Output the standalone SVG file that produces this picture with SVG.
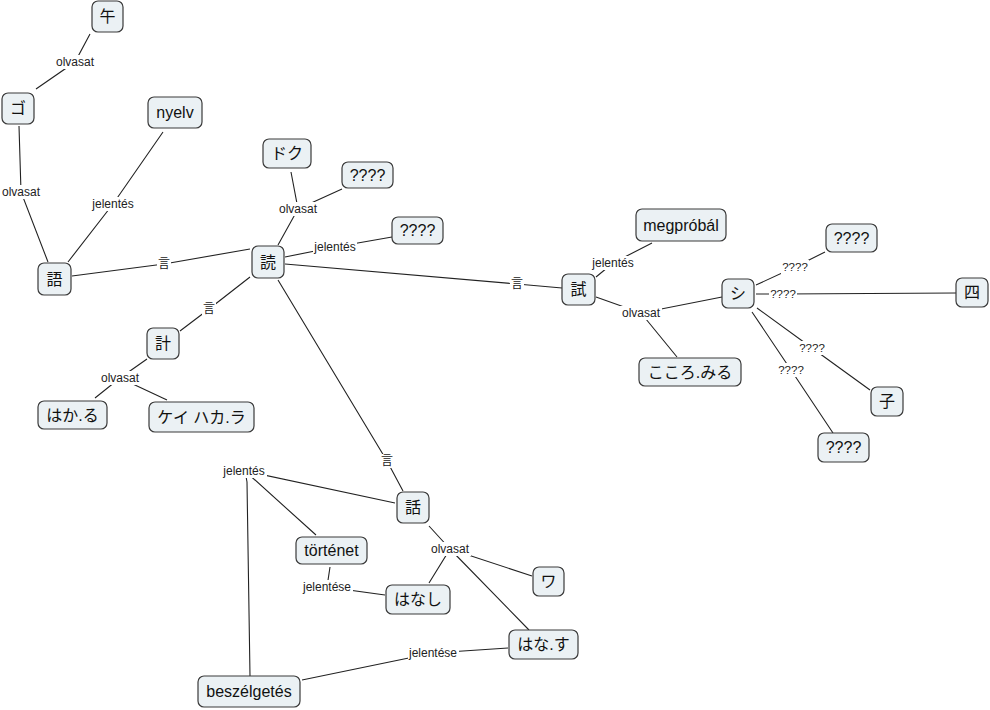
<svg xmlns="http://www.w3.org/2000/svg" width="990" height="710" viewBox="0 0 990 710">
<style>
.bg{fill:#ffffff}
.n rect{fill:#ebf1f4;stroke:#3a3a3a;stroke-width:1.2}
.n text{font-family:"Liberation Sans","Noto Sans CJK JP",sans-serif;font-size:16px;fill:#111;text-anchor:middle}
.c path{fill:none;stroke:#222;stroke-width:1.1}
.l rect{fill:#ffffff}
.l text{font-family:"Liberation Sans","Noto Sans CJK JP",sans-serif;font-size:12px;fill:#222;text-anchor:middle}
.l text.q{font-size:11.5px}
</style>
<rect class="bg" x="0" y="0" width="990" height="710"/>
<g id="connectors" class="c">
<path d="M90,34 L75,62 L36,89"/>
<path d="M19,126 L21,192 L48,262"/>
<path d="M163,132 L113,204 L68,262"/>
<path d="M72,276 L164,264 L250,249"/>
<path d="M278,245 L298,209 L291,172 M298,209 L342,189"/>
<path d="M285,257 L335,247 L392,237"/>
<path d="M285,264 L517,284 L562,288"/>
<path d="M250,277 L209,309 L180,331"/>
<path d="M278,280 L387,461 L403,491"/>
<path d="M147,359 L120,378 L95,398 M120,378 L167,400"/>
<path d="M395,503 L245,471 L316,535 M245,471 L247,482 L250,676"/>
<path d="M330,567 L327,587 L385,595"/>
<path d="M429,526 L450,549 L429,583 M450,549 L532,576 M450,549 L529,630"/>
<path d="M302,680 L433,653 L508,648"/>
<path d="M596,277 L613,263 L652,243"/>
<path d="M596,297 L641,313 L722,297 M641,313 L677,357"/>
<path d="M756,285 L795,267 L825,252"/>
<path d="M756,294 L783,294 L956,293"/>
<path d="M757,308 L812,348 L870,390"/>
<path d="M752,312 L791,370 L833,433"/>
</g>
<g id="labels" class="l">
<rect x="54" y="55" width="42" height="14"/><text x="75" y="66">olvasat</text>
<rect x="0" y="185" width="42" height="14"/><text x="21" y="196">olvasat</text>
<rect x="92" y="197" width="43" height="14"/><text x="113" y="208">jelentés</text>
<rect x="157" y="257" width="14" height="14"/><text x="164" y="268">言</text>
<rect x="277" y="202" width="42" height="14"/><text x="298" y="213">olvasat</text>
<rect x="313" y="240" width="44" height="14"/><text x="335" y="251">jelentés</text>
<rect x="510" y="277" width="14" height="14"/><text x="517" y="288">言</text>
<rect x="202" y="302" width="14" height="14"/><text x="209" y="313">言</text>
<rect x="380" y="454" width="14" height="14"/><text x="387" y="465">言</text>
<rect x="99" y="371" width="42" height="14"/><text x="120" y="382">olvasat</text>
<rect x="222" y="464" width="45" height="14"/><text x="244" y="475">jelentés</text>
<rect x="302" y="580" width="51" height="14"/><text x="327" y="591">jelentése</text>
<rect x="429" y="542" width="42" height="14"/><text x="450" y="553">olvasat</text>
<rect x="408" y="646" width="51" height="14"/><text x="433" y="657">jelentése</text>
<rect x="592" y="256" width="43" height="14"/><text x="613" y="267">jelentés</text>
<rect x="620" y="306" width="42" height="14"/><text x="641" y="317">olvasat</text>
<rect x="781" y="260" width="28" height="14"/><text class="q" x="795" y="271">????</text>
<rect x="769" y="287" width="28" height="14"/><text class="q" x="783" y="298">????</text>
<rect x="798" y="341" width="28" height="14"/><text class="q" x="812" y="352">????</text>
<rect x="777" y="363" width="28" height="14"/><text class="q" x="791" y="374">????</text>
</g>
<g id="n1" class="n"><rect x="92" y="1" width="31" height="31" rx="6"/><text x="107.5" y="22">午</text></g>
<g id="n2" class="n"><rect x="2" y="93" width="32" height="31" rx="6"/><text x="18" y="114">ゴ</text></g>
<g id="n3" class="n"><rect x="148" y="97" width="54" height="31" rx="6"/><text x="175" y="118">nyelv</text></g>
<g id="n4" class="n"><rect x="38" y="263" width="33" height="32" rx="6"/><text x="54.5" y="285">語</text></g>
<g id="n5" class="n"><rect x="252" y="246" width="32" height="32" rx="6"/><text x="268" y="268">読</text></g>
<g id="n6" class="n"><rect x="263" y="139" width="48" height="29" rx="6"/><text x="287" y="159">ドク</text></g>
<g id="n7" class="n"><rect x="342" y="162" width="51" height="26" rx="6"/><text x="367.5" y="181">????</text></g>
<g id="n8" class="n"><rect x="392" y="217" width="51" height="27" rx="6"/><text x="417.5" y="236">????</text></g>
<g id="n9" class="n"><rect x="562" y="274" width="33" height="31" rx="6"/><text x="578.5" y="295">試</text></g>
<g id="n10" class="n"><rect x="636" y="209" width="90" height="32" rx="6"/><text x="681" y="231">megpróbál</text></g>
<g id="n11" class="n"><rect x="722" y="279" width="32" height="29" rx="6"/><text x="738" y="299">シ</text></g>
<g id="n12" class="n"><rect x="826" y="224" width="51" height="28" rx="6"/><text x="851.5" y="244">????</text></g>
<g id="n13" class="n"><rect x="956" y="278" width="32" height="29" rx="6"/><text x="972" y="298">四</text></g>
<g id="n14" class="n"><rect x="639" y="358" width="102" height="28" rx="6"/><text x="690" y="378">こころ.みる</text></g>
<g id="n15" class="n"><rect x="871" y="387" width="32" height="29" rx="6"/><text x="887" y="407">子</text></g>
<g id="n16" class="n"><rect x="818" y="433" width="51" height="29" rx="6"/><text x="843.5" y="453">????</text></g>
<g id="n17" class="n"><rect x="147" y="328" width="32" height="31" rx="6"/><text x="163" y="349">計</text></g>
<g id="n18" class="n"><rect x="38" y="401" width="69" height="28" rx="6"/><text x="72.5" y="421">はか.る</text></g>
<g id="n19" class="n"><rect x="149" y="402" width="105" height="30" rx="6"/><text x="201.5" y="423">ケイ ハカ.ラ</text></g>
<g id="n20" class="n"><rect x="397" y="492" width="32" height="31" rx="6"/><text x="413" y="513">話</text></g>
<g id="n21" class="n"><rect x="296" y="537" width="71" height="27" rx="6"/><text x="331.5" y="556">történet</text></g>
<g id="n22" class="n"><rect x="386" y="585" width="64" height="29" rx="6"/><text x="418" y="605">はなし</text></g>
<g id="n23" class="n"><rect x="533" y="567" width="31" height="29" rx="6"/><text x="548.5" y="587">ワ</text></g>
<g id="n24" class="n"><rect x="509" y="630" width="69" height="29" rx="6"/><text x="543.5" y="650">はな.す</text></g>
<g id="n25" class="n"><rect x="198" y="676" width="102" height="31" rx="6"/><text x="249" y="697">beszélgetés</text></g>
</svg>
